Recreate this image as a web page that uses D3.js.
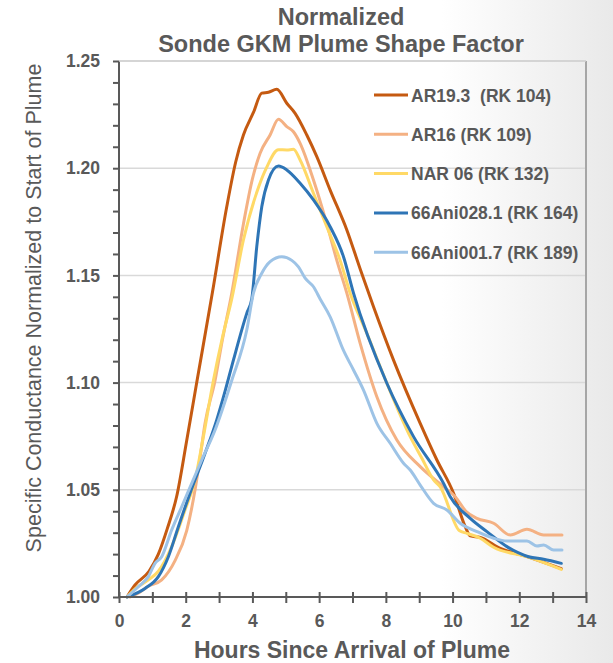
<!DOCTYPE html>
<html>
<head>
<meta charset="utf-8">
<script src="https://cdn.jsdelivr.net/npm/d3@7"></script>
<style>
  body { margin: 0; background: #fff; }
  svg { display: block; font-family: "Liberation Sans", Arial, sans-serif; }
</style>
</head>
<body>
<script>
var width = 613,
    height = 663;

// series: [hours, normalized conductance]
var ar193 = [[0.24,1.000],[0.48,1.0056],[0.9,1.012],[1.18,1.020],[1.45,1.032],[1.73,1.047],[2.03,1.073],[2.33,1.100],[2.8,1.142],
  [3.23,1.182],[3.5,1.203],[3.73,1.2155],[4.03,1.226],[4.28,1.235],[4.48,1.2354],[4.73,1.2368],[5.03,1.2303],[5.28,1.2256],
  [5.63,1.2155],[5.93,1.2054],[6.33,1.1898],[6.83,1.1712],[7.23,1.153],[7.63,1.1354],[8.23,1.1105],[9.03,1.081],[9.53,1.0639],
  [10.03,1.0484],[10.38,1.0328],[10.53,1.0285],[10.83,1.0278],[11.43,1.0227],[12.23,1.0188],[13.26,1.0132]];
var ar16 = [[0.33,1.000],[0.6,1.002],[0.88,1.005],[1.28,1.008],[1.68,1.017],[2.03,1.031],[2.28,1.050],[2.43,1.065],[2.58,1.081],
  [2.88,1.101],[3.1,1.120],[3.38,1.1417],[3.73,1.174],[4.0,1.195],[4.23,1.207],[4.53,1.2155],[4.78,1.2228],[5.03,1.2194],
  [5.23,1.217],[5.43,1.2116],[5.83,1.1945],[6.23,1.174],[6.53,1.157],[6.83,1.1417],[7.23,1.1183],[7.73,1.0934],[8.33,1.0732],
  [9.03,1.0608],[9.73,1.0514],[10.08,1.0468],[10.4,1.040],[10.73,1.0367],[11.23,1.0344],[11.73,1.0289],[12.23,1.0316],
  [12.73,1.0289],[13.28,1.0289]];
var nar06 = [[0.24,1.000],[0.5,1.004],[0.88,1.008],[1.18,1.012],[1.58,1.0235],[1.98,1.0406],[2.28,1.0546],[2.53,1.0748],
  [2.83,1.101],[3.1,1.121],[3.38,1.139],[3.73,1.1665],[4.18,1.191],[4.43,1.2005],[4.78,1.2086],[5.03,1.2085],[5.23,1.2088],
  [5.43,1.2038],[5.83,1.1883],[6.23,1.1727],[6.63,1.157],[6.93,1.1417],[7.43,1.123],[8.03,1.0997],[8.73,1.0748],[9.08,1.0647],
  [9.43,1.0546],[9.63,1.0514],[10.2,1.031],[10.43,1.0297],[10.83,1.0274],[11.23,1.0232],[12.23,1.0188],[13.26,1.0129]];
var ani028 = [[0.24,1.000],[0.78,1.004],[1.18,1.0095],[1.48,1.0188],[1.78,1.0328],[2.13,1.0484],[2.58,1.067],[2.93,1.0826],
  [3.18,1.096],[3.43,1.1105],[3.83,1.1323],[3.98,1.139],[4.13,1.1634],[4.28,1.182],[4.48,1.1945],[4.78,1.201],[5.03,1.1992],
  [5.43,1.193],[5.83,1.1852],[6.33,1.1727],[6.73,1.1587],[7.03,1.1417],[8.03,1.0997],[8.83,1.0748],[9.73,1.053],[9.93,1.0468],
  [10.53,1.0367],[11.03,1.0305],[11.63,1.0235],[12.28,1.0188],[12.73,1.0176],[13.26,1.0157]];
var ani017 = [[0.24,1.000],[0.58,1.0048],[0.88,1.0095],[1.08,1.0157],[1.28,1.0188],[1.58,1.0313],[1.88,1.0421],[2.18,1.053],
  [2.48,1.0639],[2.88,1.0779],[3.38,1.101],[3.83,1.1245],[4.03,1.1417],[4.28,1.151],[4.53,1.1564],[4.88,1.1587],[5.18,1.157],
  [5.38,1.154],[5.58,1.1487],[5.83,1.1447],[6.03,1.139],[6.33,1.1307],[6.73,1.115],[7.03,1.1059],[7.33,1.0965],[7.73,1.081],
  [8.13,1.0717],[8.53,1.0624],[8.73,1.0592],[9.03,1.0522],[9.43,1.0437],[9.83,1.0406],[10.23,1.0344],[10.73,1.0305],
  [11.23,1.0274],[11.63,1.0261],[12.23,1.0261],[12.53,1.0238],[12.73,1.0243],[13.03,1.0219],[13.28,1.0219]];

var seriesNames = ["AR19.3  (RK 104)", "AR16 (RK 109)", "NAR 06 (RK 132)", "66Ani028.1 (RK 164)", "66Ani001.7 (RK 189)"];
var seriesData = [ar193, ar16, nar06, ani028, ani017];
var colors = ["#c55a11", "#f4b183", "#ffd966", "#2e75b6", "#9dc3e6"];
var xTicks = d3.range(0, 15, 1);
var yTicks = d3.range(0, 26).map(function(i) { return +(1 + i * 0.01).toFixed(2); });
var yLabels = [1.00, 1.05, 1.10, 1.15, 1.20, 1.25];

var margin = {left: 119, right: 27, top: 61, bottom: 66};
var x = d3.scaleLinear().domain([0, 14]).range([margin.left, width - margin.right]);
var y = d3.scaleLinear().domain([1.0, 1.25]).range([height - margin.bottom, margin.top]);

var svg = d3.select("body").append("svg")
    .attr("width", width)
    .attr("height", height);

var grad = svg.append("defs").append("linearGradient")
    .attr("id", "bg")
    .attr("x1", "0").attr("x2", "1").attr("y1", "0").attr("y2", "0");
grad.append("stop").attr("offset", "0.72").attr("stop-color", "#ffffff");
grad.append("stop").attr("offset", "1").attr("stop-color", "#e9e9e9");

svg.append("rect")
    .attr("width", width)
    .attr("height", height)
    .attr("fill", "url(#bg)");

// gridlines
svg.append("g").selectAll("line")
    .data(yLabels.slice(1))
  .enter().append("line")
    .attr("x1", x(0)).attr("x2", x(14))
    .attr("y1", function(d) { return y(d); })
    .attr("y2", function(d) { return y(d); })
    .attr("stroke", "#d9d9d9")
    .attr("stroke-width", 1.5);

// right border
svg.append("line")
    .attr("x1", x(14)).attr("x2", x(14))
    .attr("y1", y(1.25)).attr("y2", y(1.0))
    .attr("stroke", "#a6a6a6")
    .attr("stroke-width", 2);

var line = d3.line()
    .x(function(d) { return x(d[0]); })
    .y(function(d) { return y(d[1]); })
    .curve(d3.curveMonotoneX);

svg.append("g").selectAll("path")
    .data(seriesData)
  .enter().append("path")
    .attr("d", line)
    .attr("fill", "none")
    .attr("stroke", function(d, i) { return colors[i]; })
    .attr("stroke-width", 3)
    .attr("stroke-linejoin", "round")
    .attr("stroke-linecap", "round");

// axes
var yAxis = d3.axisLeft(y)
    .tickValues(yTicks)
    .tickSize(6)
    .tickPadding(13)
    .tickFormat(function(d) {
      return yLabels.some(function(v) { return Math.abs(v - d) < 1e-6; }) ? d3.format(".2f")(d) : "";
    });

var gy = svg.append("g")
    .attr("transform", "translate(" + x(0) + ",0)")
    .call(yAxis);

var xAxis = d3.axisBottom(x)
    .tickValues(xTicks)
    .tickSize(6)
    .tickPadding(12)
    .tickFormat(function(d) { return d % 2 === 0 ? d : ""; });

var gx = svg.append("g")
    .attr("transform", "translate(0," + y(1.0) + ")")
    .call(xAxis);
gx.selectAll(".tick line").attr("y1", -5);

[gx, gy].forEach(function(g) {
  g.select(".domain").attr("stroke", "#595959").attr("stroke-width", 2);
  g.selectAll(".tick line").attr("stroke", "#595959").attr("stroke-width", 2);
  g.selectAll(".tick text")
    .attr("fill", "#595959")
    .style("font-size", "17.5px")
    .style("font-weight", "bold");
});
gy.select(".domain").attr("d", "M0," + y(1.25) + "V" + y(1.0));
gx.select(".domain").attr("d", "M" + x(0) + ",0H" + x(14));

// top border
svg.append("line")
    .attr("x1", x(0)).attr("x2", x(14))
    .attr("y1", y(1.25)).attr("y2", y(1.25))
    .attr("stroke", "#d0d0d0")
    .attr("stroke-width", 1.5);

// legend
var legend = svg.append("g").selectAll("g")
    .data(seriesNames)
  .enter().append("g")
    .attr("transform", function(d, i) { return "translate(374," + (95 + i * 39.3) + ")"; });

legend.append("line")
    .attr("x1", 0).attr("x2", 34)
    .attr("stroke", function(d, i) { return colors[i]; })
    .attr("stroke-width", 3);

legend.append("text")
    .attr("x", 37)
    .attr("y", 6.5)
    .attr("fill", "#595959")
    .style("font-size", "17.5px")
    .style("font-weight", "bold")
    .style("white-space", "pre")
    .text(function(d) { return d; });

// titles
var title = svg.append("text")
    .attr("text-anchor", "middle")
    .attr("fill", "#595959")
    .style("font-size", "23.5px")
    .style("font-weight", "bold");
title.append("tspan").attr("x", 341).attr("y", 25).text("Normalized");
title.append("tspan").attr("x", 341).attr("y", 52).text("Sonde GKM Plume Shape Factor");

svg.append("text")
    .attr("x", 352)
    .attr("y", 658)
    .attr("text-anchor", "middle")
    .attr("fill", "#595959")
    .style("font-size", "23px")
    .style("font-weight", "bold")
    .text("Hours Since Arrival of Plume");

svg.append("text")
    .attr("transform", "translate(41,308) rotate(-90)")
    .attr("text-anchor", "middle")
    .attr("fill", "#595959")
    .style("font-size", "21.5px")
    .text("Specific Conductance Normalized to Start of Plume");
</script>
</body>
</html>
